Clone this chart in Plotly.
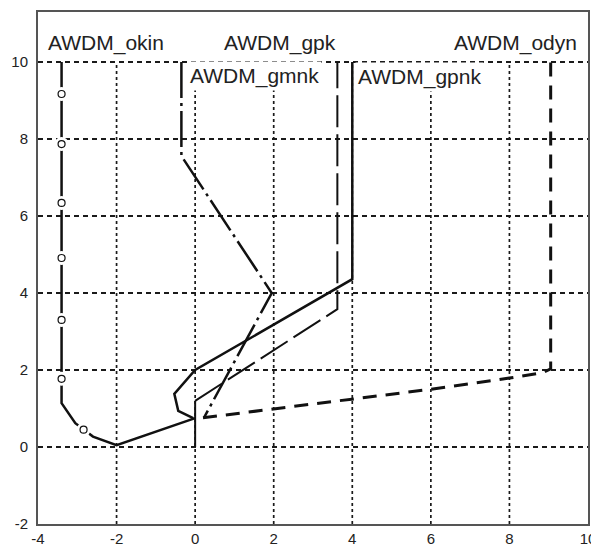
import plotly.graph_objects as go

# ---- data ----
okin_x = [0, -2, -2.6, -2.84, -3.05, -3.4, -3.4]
okin_y = [0.75, 0.05, 0.27, 0.45, 0.62, 1.14, 10]
okin_mx = [-2.84, -3.4, -3.4, -3.4, -3.4, -3.4, -3.4]
okin_my = [0.45, 1.77, 3.30, 4.91, 6.34, 7.87, 9.17]

gpnk_x = [4, 4, 0, -0.53, -0.43, -0.05]
gpnk_y = [10, 4.36, 2, 1.38, 0.94, 0.75]

gpk_x = [0, 3.62, 3.62]
gpk_y = [1.2, 3.58, 10]
stem_x = [0, 0]
stem_y = [0, 1.2]

gmnk_x = [-0.35, -0.35, 1.95, 0.38, 0.23]
gmnk_y = [10, 7.56, 4.0, 1.04, 0.77]

odyn_x = [0.2, 2.6, 6, 8, 8.85, 9.05, 9.05]
odyn_y = [0.76, 1.06, 1.5, 1.79, 1.93, 2.03, 10]

x_ticks = [-4, -2, 0, 2, 4, 6, 8, 10]
x_ticktext = ["-4", "-2", "0", "2", "4", "6", "8", "10"]
y_ticks = [-2, 0, 2, 4, 6, 8, 10]
y_ticktext = ["-2", "0", "2", "4", "6", "8", "10"]
vgrid_x = [-2, 0, 2, 4, 6, 8]

labels = [
    # text, x, y, xanchor, bg
    ("AWDM_okin", -3.82, 10.49, "left", False),
    ("AWDM_gpk", 3.65, 10.49, "right", False),
    ("AWDM_odyn", 9.80, 10.49, "right", False),
    ("AWDM_gmnk", -0.20, 9.63, "left", True),
    ("AWDM_gpnk", 4.08, 9.60, "left", True),
]

BLACK = "#111111"
fig = go.Figure()

fig.add_trace(go.Scatter(x=okin_x, y=okin_y, mode="lines",
                         line=dict(color=BLACK, width=2.5)))
fig.add_trace(go.Scatter(x=okin_mx, y=okin_my, mode="markers",
                         marker=dict(color="white", size=14, line=dict(width=0))))
fig.add_trace(go.Scatter(x=okin_mx, y=okin_my, mode="markers",
                         marker=dict(color="white", size=7, symbol="circle",
                                     line=dict(color=BLACK, width=1.2))))
fig.add_trace(go.Scatter(x=gpnk_x, y=gpnk_y, mode="lines",
                         line=dict(color=BLACK, width=2.5)))
fig.add_trace(go.Scatter(x=stem_x, y=stem_y, mode="lines",
                         line=dict(color=BLACK, width=2)))
fig.add_trace(go.Scatter(x=gpk_x, y=gpk_y, mode="lines",
                         line=dict(color=BLACK, width=2, dash="32px,7px")))
fig.add_trace(go.Scatter(x=gmnk_x, y=gmnk_y, mode="lines",
                         line=dict(color=BLACK, width=2.5, dash="36px,5px,3px,5px")))
fig.add_trace(go.Scatter(x=odyn_x, y=odyn_y, mode="lines",
                         line=dict(color=BLACK, width=3, dash="14px,9px")))

for gx in vgrid_x:
    fig.add_shape(type="line", x0=gx, x1=gx, y0=-2, y1=10, layer="below",
                  line=dict(color="#1a1a1a", width=1.7, dash="3px,3px"))

for text, x, y, xa, bg in labels:
    fig.add_annotation(x=x, y=y, text=text, showarrow=False, xanchor=xa,
                       yanchor="middle",
                       font=dict(family="Liberation Sans, Arial", size=21, color="#222222"),
                       bgcolor="white" if bg else "rgba(0,0,0,0)", borderpad=2)

tick_font = dict(family="Liberation Sans, Arial", size=15, color="#222222")
# page body has an 8px margin, so the figure is 8px smaller and margins shifted
fig.update_layout(
    width=591, height=538, autosize=False,
    margin=dict(l=30, r=11, t=4, b=22),
    plot_bgcolor="white", paper_bgcolor="white",
    showlegend=False,
    font=dict(family="Liberation Sans, Arial", size=15, color="#222222"),
)
fig.update_xaxes(range=[-4, 10], tickvals=x_ticks, ticktext=x_ticktext,
                 tickfont=tick_font, showgrid=False, zeroline=False,
                 showline=True, mirror=True, linecolor="#555555", linewidth=2,
                 ticks="", ticklabelstandoff=0, automargin=False)
fig.update_yaxes(range=[-2, 11.3], tickvals=y_ticks, ticktext=y_ticktext,
                 tickfont=tick_font, showgrid=True,
                 gridcolor="#1a1a1a", gridwidth=1.7, griddash="5px,4px",
                 zeroline=False, showline=True, mirror=True,
                 linecolor="#555555", linewidth=2, ticks="", ticklabelstandoff=5,
                 automargin=False)

fig.write_html("out.html")
